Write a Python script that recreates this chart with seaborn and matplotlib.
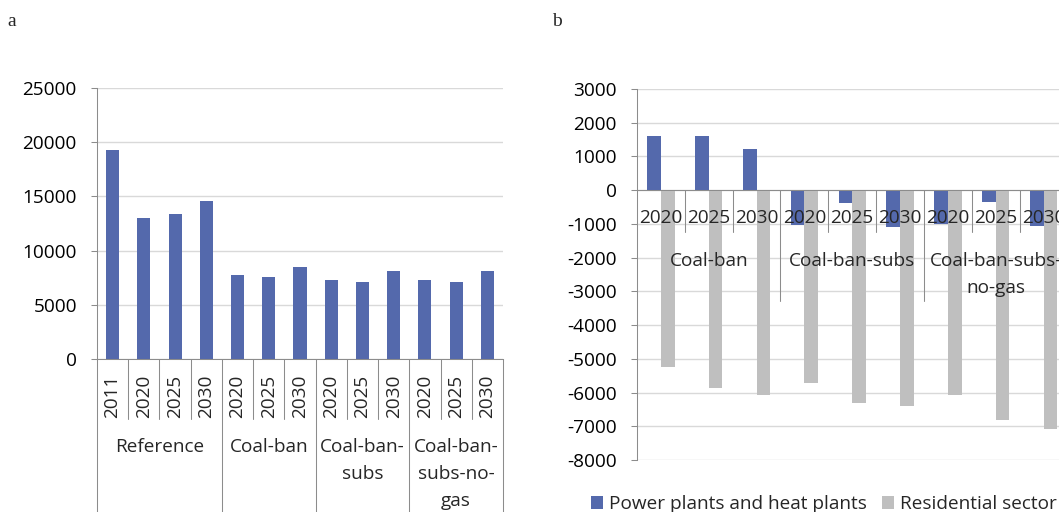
import numpy as np
import pandas as pd
import matplotlib
matplotlib.use('Agg')
import matplotlib.pyplot as plt
import matplotlib.transforms as mtransforms
from matplotlib.ticker import FuncFormatter, MultipleLocator
import seaborn as sns

# ---- panel a data ----
a_groups = ['Reference', 'Coal-ban', 'Coal-ban-\nsubs', 'Coal-ban-\nsubs-no-\ngas']
a_years = [['2011', '2020', '2025', '2030'],
           ['2020', '2025', '2030'],
           ['2020', '2025', '2030'],
           ['2020', '2025', '2030']]
a_values = [19300, 13000, 13400, 14550,
            7780, 7540, 8490,
            7290, 7130, 8150,
            7290, 7130, 8150]

# ---- panel b data ----
b_groups = ['Coal-ban', 'Coal-ban-subs', 'Coal-ban-subs-\nno-gas']
b_years = ['2020', '2025', '2030']
b_sectors = ['Power plants and heat plants', 'Residential sector']
power = [1620, 1620, 1210, -1020, -376, -1090, -1010, -347, -1060]
residential = [-5230, -5870, -6060, -5710, -6300, -6385, -6080, -6820, -7080]

blue = '#5469AC'
grey = '#BFBFBF'
axis_col = '#8C8C8C'
grid_col = '#D9D9D9'
FS = 13.7

sns.set_style('white')
plt.rcParams['font.family'] = ['Open Sans', 'DejaVu Sans']
plt.rcParams['axes.unicode_minus'] = False

W, H = 1059, 512
fig = plt.figure(figsize=(W / 100, H / 100), dpi=100)

def frac(x0, x1, ytop, ybot):
    return [x0 / W, 1 - ybot / H, (x1 - x0) / W, (ybot - ytop) / H]

# ================= panel a =================
ax_a = fig.add_axes(frac(97, 503, 88, 359))
keys_a = []
for g, yrs in zip(a_groups, a_years):
    for y in yrs:
        keys_a.append(g + ' ' + y)
df_a = pd.DataFrame({'key': keys_a, 'value': a_values})
sns.barplot(data=df_a, x='key', y='value', order=keys_a, color=blue,
            saturation=1, width=0.42, linewidth=0, ax=ax_a)
ax_a.set_xlim(-0.5, len(keys_a) - 0.5)
ax_a.set_ylim(0, 25000)
ax_a.yaxis.set_major_locator(MultipleLocator(5000))
ax_a.set_xticks([])
ax_a.set_xlabel('')
ax_a.set_ylabel('')

# ================= panel b =================
ax_b = fig.add_axes(frac(637, 637 + 9 * 47.83, 89, 460))
keys_b = [g + ' ' + y for g in b_groups for y in b_years]
df_b = pd.DataFrame({
    'key': keys_b * 2,
    'value': power + residential,
    'sector': [b_sectors[0]] * len(keys_b) + [b_sectors[1]] * len(keys_b),
})
sns.barplot(data=df_b, x='key', y='value', hue='sector', order=keys_b,
            hue_order=b_sectors, palette=[blue, grey], saturation=1,
            width=0.57, linewidth=0, ax=ax_b)
ax_b.set_xlim(-0.5, len(keys_b) - 0.5)
ax_b.set_ylim(-8000, 3000)
ax_b.yaxis.set_major_locator(MultipleLocator(1000))
ax_b.set_xticks([])
ax_b.set_xlabel('')
ax_b.set_ylabel('')

fmt = FuncFormatter(lambda v, p: '%d' % v)
for ax in (ax_a, ax_b):
    ax.yaxis.set_major_formatter(fmt)
    ax.set_axisbelow(True)
    ax.grid(axis='y', color=grid_col, linewidth=1.0)
    ax.tick_params(axis='y', left=True, direction='out', length=4.5, width=0.75,
                   color=axis_col, pad=10, labelsize=FS, labelcolor='black')
    for s in ('top', 'right'):
        ax.spines[s].set_visible(False)
    ax.spines['left'].set_color(axis_col)
    ax.spines['left'].set_linewidth(0.75)

ax_a.spines['bottom'].set_color(axis_col)
ax_a.spines['bottom'].set_linewidth(0.75)
ax_b.spines['bottom'].set_visible(False)
ax_b.axhline(0, color=axis_col, linewidth=0.75, zorder=2)

# multi-level category axis for a
tr_a = mtransforms.blended_transform_factory(ax_a.transData, ax_a.transAxes)
ha = 359 - 88
pos = 0
bounds = [-0.5]
for g, yrs in zip(a_groups, a_years):
    start = pos
    for y in yrs:
        ax_a.text(pos, -(396 - 359) / ha, y, rotation=90, ha='center', va='center',
                  fontsize=FS, transform=tr_a)
        pos += 1
    for b in range(start, pos - 1):
        ax_a.plot([b + 0.5, b + 0.5], [0, -(419 - 359) / ha], color=axis_col,
                  lw=0.75, transform=tr_a, clip_on=False)
    bounds.append(pos - 0.5)
    centre = (start + pos - 1) / 2
    for i, line in enumerate(g.split('\n')):
        ax_a.text(centre, -(447 + 27 * i - 359) / ha, line, ha='center', va='center',
                  fontsize=FS, transform=tr_a)
for b in bounds:
    ax_a.plot([b, b], [0, -(530 - 359) / ha], color=axis_col, lw=0.75,
              transform=tr_a, clip_on=False)

# multi-level category axis for b
ppu = (460 - 89) / 11000.0
pos = 0
for g in b_groups:
    start = pos
    for y in b_years:
        ax_b.text(pos, -28 / ppu, y, ha='center', va='center', fontsize=FS, zorder=5)
        pos += 1
    for b in range(start, pos - 1):
        ax_b.plot([b + 0.5, b + 0.5], [0, -42 / ppu], color=axis_col, lw=0.75,
                  clip_on=False, zorder=3)
    if pos < len(keys_b):
        ax_b.plot([pos - 0.5, pos - 0.5], [0, -111 / ppu], color=axis_col, lw=0.75,
                  clip_on=False, zorder=3)
    centre = (start + pos - 1) / 2
    for i, line in enumerate(g.split('\n')):
        ax_b.text(centre, -(71 + 27 * i) / ppu, line, ha='center', va='center',
                  fontsize=FS, zorder=5)

sns.move_legend(ax_b, loc='center', bbox_to_anchor=(824 / W, 1 - 504 / H),
                bbox_transform=fig.transFigure, ncol=2, frameon=False, title=None,
                fontsize=FS, handlelength=0.64, handleheight=0.64,
                handletextpad=0.33, columnspacing=0.75, borderpad=0)

fig.text(12 / W, 1 - 22 / H, 'a', family='Liberation Serif', fontsize=14,
         ha='center', va='center')
fig.text(557 / W, 1 - 22 / H, 'b', family='Liberation Serif', fontsize=14,
         ha='center', va='center')

fig.savefig('out.png', dpi=100)
